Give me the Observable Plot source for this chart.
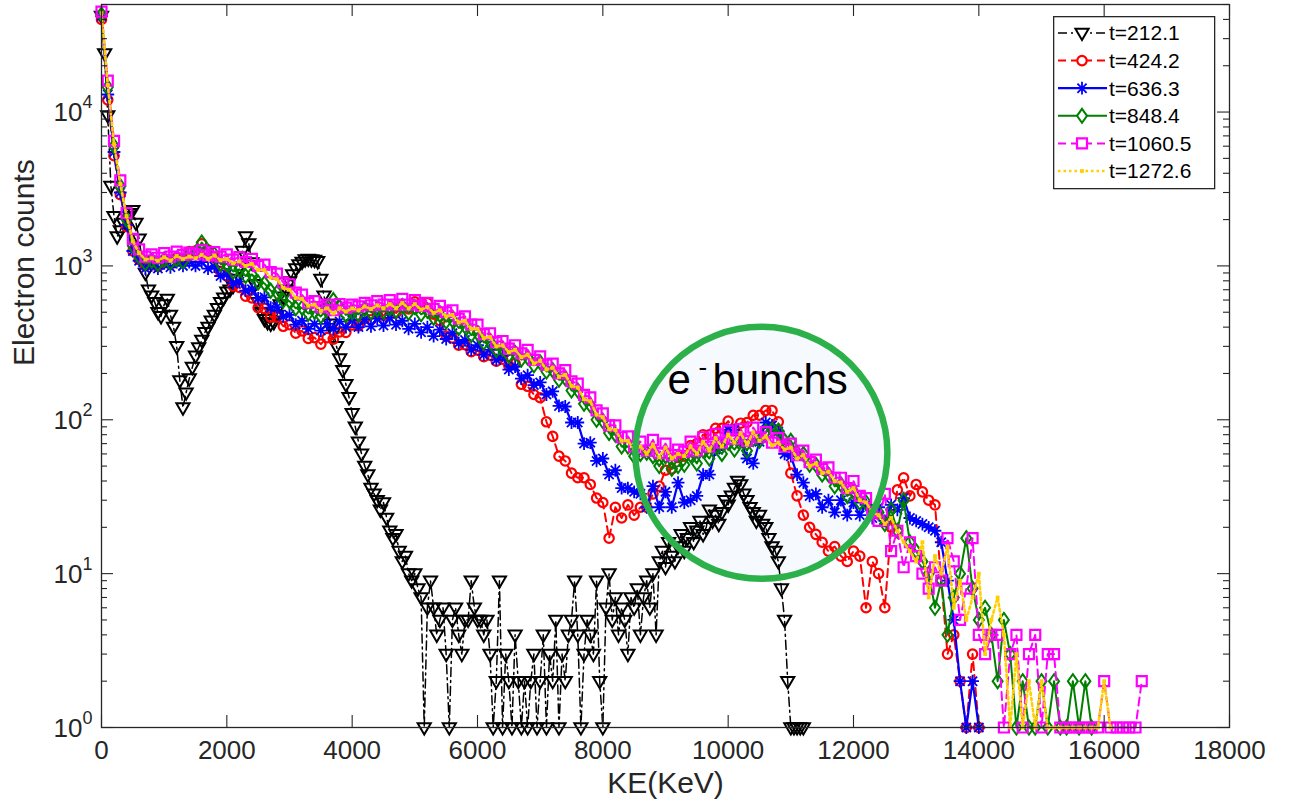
<!DOCTYPE html>
<html><head><meta charset="utf-8">
<script src="https://cdn.jsdelivr.net/npm/d3@7"></script>
<script src="https://cdn.jsdelivr.net/npm/@observablehq/plot@0.6"></script>
<style>
body{margin:0;background:#fff;}
#wrap{position:relative;width:1295px;height:805px;font-family:"Liberation Sans",Arial,Helvetica,sans-serif;}
#legend{position:absolute;left:1053px;top:16px;}
</style></head><body>
<div id="wrap"><div id="chart"></div><svg id="legend" width="163" height="174"></svg></div>
<script>
// ---------------- data (counts per energy bin) ----------------
const blackStep = 50;   // keV per bin for t=212.1
const colorStep = 100;  // keV per bin for the other series

const black = [ // t=212.1, bins 0..11200 keV
42000,24000,9500,3300,2100,1550,1700,1900,2100,2200,2300,1900,1500,1080,900,700,640,580,500,470,
560,610,480,400,300,180,120,150,185,220,260,295,330,370,400,440,480,530,580,620,
680,700,740,820,980,1250,1550,1400,1050,760,580,500,450,430,420,430,480,560,630,700,
790,880,960,1020,1060,1100,1110,1100,1090,1070,820,640,520,420,370,300,250,210,170,140,
110,90,72,60,50,44,36,33,30,26,29,23,19,17,18,14,12,13,10,9,
10,8,7,1,6,9,6,4,5,6,3,1,5,6,4,3,5,5,9,6,
5,5,4,5,3,1,2,9,1,3,2,1,4,2,1,2,1,2,3,1,
2,4,1,3,2,5,1,3,2,4,5,9,4,1,3,5,4,3,9,2,
1,6,10,5,7,4,6,5,3,7,6,8,4,7,9,6,10,4,12,14,
11,16,13,12,15,18,14,17,20,16,19,22,18,20,26,22,24,21,25,30,
28,32,36,40,38,33,30,27,25,22,24,21,20,17,15,14,12,8,5,2,
1,1,1,1,1];

const red = [ // t=424.2, bins 0..14000 keV
40000,12000,5200,2900,1800,1250,1100,1000,1050,990,
1080,1030,1130,1110,1240,1250,1390,1270,1130,920,
860,740,725,635,620,535,530,465,465,405,
415,365,378,338,342,310,342,334,372,370,
414,408,455,447,486,476,517,495,537,525,
585,575,575,485,440,350,340,305,308,277,
283,257,263,240,248,225,232,170,165,146,
139,97,78,58,54,45,42,42,38,31,
29,17,27,23,28,24,27,27,33,37,
47,48,57,58,68,70,80,80,88,88,
98,86,95,96,107,107,115,115,97,68,
45,32,24,20,18,16,14,15,13,12,
14,13,6,12,10,6,20,35,42,32,
38,34,30,28,9,3,4,2,1,3,
1];

const blue = [ // t=636.3, bins 0..14000 keV
42000,13000,5500,3000,1850,1250,1080,960,1010,960,
1040,980,1060,1000,1060,1000,1060,960,990,860,
880,770,790,690,705,615,625,535,540,470,
480,415,440,390,420,380,420,390,435,400,
445,400,450,405,455,410,460,415,440,390,
420,370,400,350,385,335,365,315,330,285,
305,265,285,245,260,212,222,185,195,168,
175,146,153,123,122,96,96,70,71,54,
56,44,47,36,36,34,33,27,37,27,
34,27,39,29,30,32,44,44,64,69,
86,86,74,56,52,72,96,92,84,60,
58,44,39,32,33,27,30,25,30,24,
29,24,28,23,27,22,28,26,31,23,
22,21,20,19,16,9,5,2,1,2,
1];

const green = [ // t=848.4, bins 0..15800 keV
43000,14500,6000,3300,2000,1350,1150,1040,1080,1030,
1100,1050,1110,1070,1190,1220,1420,1240,1190,1030,
1030,920,950,860,880,780,770,690,670,595,
590,530,535,490,505,470,525,600,540,480,
500,485,525,500,520,505,530,510,550,495,
540,485,510,460,480,435,445,395,405,355,
365,318,322,284,290,262,272,246,254,226,
236,206,210,182,186,155,155,127,124,100,
98,82,80,67,67,58,60,61,58,50,
58,48,50,51,59,52,63,56,67,60,
71,64,73,63,75,73,84,86,85,73,
73,61,60,51,51,44,44,37,38,32,
34,29,29,25,25,21,26,19,30,16,
14,12,10,6,9,4,7,10,17,8,
5,6,4,2,5,3,1,2,1,1,
2,1,2,1,1,2,1,2,1];

const magenta = [ // t=1060.5, bins 0..16600 keV
45000,16000,6500,3600,2200,1500,1280,1150,1190,1130,
1210,1150,1240,1180,1220,1190,1260,1170,1230,1150,
1190,1100,1140,1060,1110,1000,1020,910,890,780,
760,670,650,575,590,540,560,515,565,535,
560,545,575,555,590,560,600,560,610,560,
600,550,575,525,550,500,515,455,470,415,
415,360,365,320,325,290,305,270,285,245,
258,228,232,200,210,178,172,145,140,115,
110,92,92,77,78,67,72,63,74,61,
70,59,64,62,72,63,77,67,81,71,
85,75,87,73,89,77,83,71,76,67,
70,59,63,53,55,48,49,42,42,36,
40,32,31,25,22,33,14,19,11,16,
13,10,8,11,9,17,12,5,8,17,
4,3,4,4,1,3,4,1,3,4,
1,3,3,1,1,1,1,1,1,1,
2,1,1,1,1,1,2];

const yellow = [ // t=1272.6, bins 0..16100 keV
44000,15000,6200,3400,2100,1450,1210,1100,1120,1080,
1140,1080,1160,1110,1150,1120,1180,1110,1170,1090,
1110,1040,1070,1000,1030,940,940,840,820,720,
700,620,610,550,560,510,530,490,530,505,
530,515,545,525,555,530,565,530,575,530,
565,520,540,495,515,470,480,430,440,390,
390,340,345,300,305,275,285,255,265,232,
242,212,218,190,196,166,162,136,132,108,
104,87,86,73,73,64,67,60,69,57,
66,56,60,58,67,60,72,63,76,67,
80,71,82,69,83,73,78,68,71,64,
66,56,59,50,52,45,46,40,39,34,
36,30,29,25,24,21,23,19,16,14,
12,16,7,13,10,15,6,9,5,7,
10,3,5,7,4,1,3,1,2,1,
2,1,1,1,1,1,1,1,1,1,
2,1];

const seriesNames = ["t=212.1","t=424.2","t=636.3","t=848.4","t=1060.5","t=1272.6"];
const xTicks = [0,2000,4000,6000,8000,10000,12000,14000,16000,18000];
const yMajor = [1,10,100,1000,10000];
const yMinorFactors = [2,3,4,5,6,7,8,9];
const bunchKE = [10530];
const bunchCount = [61];
const bunchLabel = ["e", "-", "bunchs"];
const xLabel = "KE(KeV)";
const yLabel = "Electron counts";

// ---------------- styles ----------------
const FONT = '"Liberation Sans", Arial, Helvetica, sans-serif';
const axisColor = "#262626";
const W = 1295, H = 805, mL = 101, mR = 66, mT = 4, mB = 78;
const innerW = W - mL - mR, innerH = H - mT - mB;

const sym = {
  tri: {draw(c){c.moveTo(-6.6,-4.3);c.lineTo(6.6,-4.3);c.lineTo(0,7.1);c.closePath();}},
  circle: {draw(c){c.moveTo(4.7,0);c.arc(0,0,4.7,0,2*Math.PI);c.closePath();}},
  star: {draw(c){const a=6.4,b=4.6;c.moveTo(-a,0);c.lineTo(a,0);c.moveTo(0,-a);c.lineTo(0,a);c.moveTo(-b,-b);c.lineTo(b,b);c.moveTo(-b,b);c.lineTo(b,-b);}},
  diamond: {draw(c){c.moveTo(0,-7);c.lineTo(5,0);c.lineTo(0,7);c.lineTo(-5,0);c.closePath();}},
  square: {draw(c){c.moveTo(-5,-5);c.lineTo(5,-5);c.lineTo(5,5);c.lineTo(-5,5);c.closePath();}},
  point: {draw(c){c.moveTo(-1.9,-1.9);c.lineTo(1.9,-1.9);c.lineTo(1.9,1.9);c.lineTo(-1.9,1.9);c.closePath();}}
};

const series = [
  {values: black,   step: blackStep, color:"#000000", dash:"9,4,2,4", lw:1.5, sym:sym.tri,     fill:"none",   sw:2},
  {values: red,     step: colorStep, color:"#ff0000", dash:"8,5",     lw:2,   sym:sym.circle,  fill:"none",   sw:2.2},
  {values: blue,    step: colorStep, color:"#0000ff", dash:null,      lw:2.2, sym:sym.star,    fill:"none",   sw:1.8},
  {values: green,   step: colorStep, color:"#008000", dash:null,      lw:2,   sym:sym.diamond, fill:"none",   sw:2},
  {values: magenta, step: colorStep, color:"#ff00ff", dash:"8,5",     lw:2,   sym:sym.square,  fill:"none",   sw:2.2},
  {values: yellow,  step: colorStep, color:"#ffcf00", dash:"2.5,3",   lw:2.6, sym:sym.point,   fill:"#ffcf00", sw:0}
];

const toRows = (values, step) => values.map((v, i) => ({ke: i * step, count: v}));
const bunch = bunchKE.map((k, i) => ({ke: k, count: bunchCount[i]}));
const yMinor = yMajor.flatMap(d => yMinorFactors.map(f => f * d)).filter(v => v <= 5e4);

// ---------------- marks ----------------
const marks = [
  Plot.dot(bunch, {x:"ke", y:"count", r:126, fill:"#f6f9fe", stroke:"none"})
];
for (const s of series) {
  const rows = toRows(s.values, s.step);
  const lineOpts = {x:"ke", y:"count", stroke:s.color, strokeWidth:s.lw, curve:"linear"};
  if (s.dash) lineOpts.strokeDasharray = s.dash;
  marks.push(Plot.line(rows, lineOpts));
  marks.push(Plot.dot(rows, {x:"ke", y:"count", symbol:s.sym, r:5,
    stroke: s.sw ? s.color : "none", strokeWidth: s.sw || 0, fill: s.fill}));
}
marks.push(
  Plot.dot(bunch, {x:"ke", y:"count", r:126, fill:"none", stroke:"#2cb14a", strokeWidth:6.5}),
  Plot.text(bunch, {x:"ke", y:"count", text: () => bunchLabel[0], textAnchor:"start", lineAnchor:"bottom", dx:-94, dy:-59, fontSize:42, fill:"#000"}),
  Plot.text(bunch, {x:"ke", y:"count", text: () => bunchLabel[1], textAnchor:"start", lineAnchor:"bottom", dx:-63, dy:-77, fontSize:26, fill:"#000"}),
  Plot.text(bunch, {x:"ke", y:"count", text: () => bunchLabel[2], textAnchor:"start", lineAnchor:"bottom", dx:-49, dy:-59, fontSize:42, fill:"#000"}),
  // ticks (inward, all four sides)
  Plot.tickX(xTicks, {x: d => d, insetTop: innerH - 12, stroke: axisColor, strokeWidth: 1.1}),
  Plot.tickX(xTicks, {x: d => d, insetBottom: innerH - 12, stroke: axisColor, strokeWidth: 1.1}),
  Plot.tickY(yMajor, {y: d => d, insetRight: innerW - 12, stroke: axisColor, strokeWidth: 1.1}),
  Plot.tickY(yMajor, {y: d => d, insetLeft: innerW - 12, stroke: axisColor, strokeWidth: 1.1}),
  Plot.tickY(yMinor, {y: d => d, insetRight: innerW - 6, stroke: axisColor, strokeWidth: 1.1}),
  Plot.tickY(yMinor, {y: d => d, insetLeft: innerW - 6, stroke: axisColor, strokeWidth: 1.1}),
  Plot.frame({stroke: axisColor, strokeWidth: 1.3}),
  // tick labels
  Plot.text(xTicks, {x: d => d, frameAnchor:"bottom", text: d => String(d), lineAnchor:"bottom", dy:31, fontSize:26, fill:axisColor}),
  Plot.text(yMajor, {y: d => d, frameAnchor:"left", text: () => "10", textAnchor:"end", lineAnchor:"bottom", dx:-19, dy:9, fontSize:26, fill:axisColor}),
  Plot.text(yMajor, {y: d => d, frameAnchor:"left", text: d => String(Math.round(Math.log10(d))), textAnchor:"start", lineAnchor:"bottom", dx:-19, dy:-4, fontSize:18, fill:axisColor}),
  // axis titles
  Plot.text([xLabel], {frameAnchor:"bottom", text: d => d, lineAnchor:"bottom", dy:65, fontSize:30, fill:axisColor}),
  Plot.text([yLabel], {frameAnchor:"left", text: d => d, rotate:-90, lineAnchor:"bottom", dx:-68, fontSize:30, fill:axisColor})
);

const chart = Plot.plot({
  width: W, height: H,
  marginLeft: mL, marginRight: mR, marginTop: mT, marginBottom: mB,
  x: {domain: [0, 18000], axis: null},
  y: {type: "log", domain: [1, 5e4], axis: null},
  style: {fontFamily: FONT, background: "white", overflow: "visible"},
  marks
});
document.getElementById("chart").appendChild(chart);

// ---------------- legend ----------------
const lg = d3.select("#legend");
lg.append("rect").attr("x",0.65).attr("y",0.65).attr("width",161).attr("height",172)
  .attr("fill","white").attr("stroke",axisColor).attr("stroke-width",1.3);
series.forEach((s, i) => {
  const y = 17 + i * 27.6;
  const ln = lg.append("line").attr("x1",5).attr("x2",54).attr("y1",y).attr("y2",y)
    .attr("stroke",s.color).attr("stroke-width",s.lw);
  if (s.dash) ln.attr("stroke-dasharray", s.dash);
  lg.append("path").attr("transform",`translate(29,${y})`)
    .attr("d", d3.symbol().type(s.sym)())
    .attr("fill", s.fill === "none" ? "white" : s.fill)
    .attr("stroke", s.sw ? s.color : "none").attr("stroke-width", s.sw || 0);
  lg.append("text").attr("x",56).attr("y",y).attr("dy","0.35em")
    .attr("font-size",21).attr("font-family",FONT).attr("fill","#000").text(seriesNames[i]);
});
</script>
</body></html>
